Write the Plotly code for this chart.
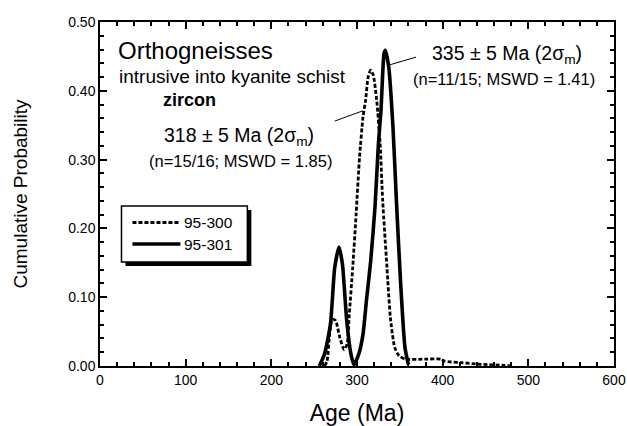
import plotly.graph_objects as go

# ---- data ----
age_9530 = [262, 265, 268, 271, 275, 280, 285, 288.5, 291, 295, 299, 303, 307, 310, 313, 316,
            319, 323, 327, 330, 335, 339, 344, 349, 356, 380, 398, 402, 421, 444, 472, 480]
prob_9530 = [0.0, 0.007, 0.046, 0.068, 0.066, 0.041, 0.024, 0.032, 0.075, 0.143, 0.221, 0.304,
             0.362, 0.386, 0.420, 0.430, 0.423, 0.386, 0.323, 0.240, 0.143, 0.070, 0.027, 0.015,
             0.010, 0.010, 0.010, 0.007, 0.005, 0.0025, 0.001, 0.0]

age_9531 = [256, 262, 269, 274, 279, 283, 288, 293, 296.5, 302, 307, 311, 316, 321, 325, 328,
            331.5, 333, 337, 342, 346, 351, 356, 360]
prob_9531 = [0.0, 0.017, 0.061, 0.143, 0.173, 0.148, 0.066, 0.017, 0.002, 0.017, 0.046, 0.095,
             0.153, 0.231, 0.323, 0.372, 0.454, 0.459, 0.435, 0.347, 0.240, 0.119, 0.027, 0.002]

series_names = ["95-300", "95-301"]
x_ticks = [0, 100, 200, 300, 400, 500, 600]
y_ticks = [0.0, 0.1, 0.2, 0.3, 0.4, 0.5]
y_tick_text = ["0.00", "0.10", "0.20", "0.30", "0.40", "0.50"]

FONT = "Liberation Sans, Arial, sans-serif"
DASH = "4px,2px"
W_DASH, W_SOLID = 2.8, 3.6

fig = go.Figure()
fig.add_trace(go.Scatter(x=age_9530, y=prob_9530, mode="lines", name=series_names[0], showlegend=False,
                         line=dict(color="black", width=W_DASH, dash=DASH, shape="spline", smoothing=0.6)))
fig.add_trace(go.Scatter(x=age_9531, y=prob_9531, mode="lines", name=series_names[1], showlegend=False,
                         line=dict(color="black", width=W_SOLID, shape="spline", smoothing=0.6)))

# leader lines
fig.add_trace(go.Scatter(x=[274, 307], y=[0.356, 0.371], mode="lines", showlegend=False,
                         line=dict(color="black", width=1)))
fig.add_trace(go.Scatter(x=[337.5, 369], y=[0.4375, 0.449], mode="lines", showlegend=False,
                         line=dict(color="black", width=1)))

axis_common = dict(showline=True, linecolor="black", linewidth=1.5, mirror="ticks",
                   ticks="inside", ticklen=7, tickwidth=1.5, tickcolor="black",
                   showgrid=False, zeroline=False, automargin=False,
                   tickfont=dict(family=FONT, size=14, color="black"))

fig.update_xaxes(range=[0, 600], tickvals=x_ticks,
                 minor=dict(dtick=20, ticks="inside", ticklen=4, tickwidth=1.5, tickcolor="black", showgrid=False),
                 title=dict(text="Age (Ma)", font=dict(family=FONT, size=23, color="black"), standoff=19),
                 **axis_common)
fig.update_yaxes(range=[0, 0.5], tickvals=y_ticks, ticktext=y_tick_text,
                 minor=dict(dtick=0.02, ticks="inside", ticklen=4, tickwidth=1.5, tickcolor="black", showgrid=False),
                 title=dict(text="Cumulative Probability", font=dict(family=FONT, size=19, color="black"), standoff=36),
                 **axis_common)

L, R, T, B = 99.5, 13, 22, 60
W, H = 627, 426
PW, PH = W - L - R, H - T - B

def px(xp):
    return (xp - L) / PW

def py(yp):
    return (H - B - yp) / PH

ann = []
def A(text, x, y, size, xanchor="left", bold=False):
    ann.append(dict(text=f"<b>{text}</b>" if bold else text, x=x, y=y, xref="paper", yref="paper",
                    xanchor=xanchor, yanchor="middle", showarrow=False,
                    font=dict(family=FONT, size=size, color="black")))

A("Orthogneisses", px(116), py(50), 24)
A("intrusive into kyanite schist", px(117), py(77), 19)
A("zircon", px(161), py(100), 18, bold=True)
A("318 ± 5 Ma (2σ<sub>m</sub>)", px(239), py(136), 19.5, xanchor="center")
A("(n=15/16; MSWD = 1.85)", px(240), py(161), 16.5, xanchor="center")
A("335 ± 5 Ma (2σ<sub>m</sub>)", px(507), py(55), 19.5, xanchor="center")
A("(n=11/15; MSWD = 1.41)", px(504), py(79), 16.5, xanchor="center")

# legend (drawn manually as a boxed key with drop shadow)
A(series_names[0], px(182), py(222.5), 15.5)
A(series_names[1], px(182), py(244), 15.5)

shapes = [
    dict(type="rect", xref="paper", yref="paper", x0=px(125), x1=px(251), y0=py(266), y1=py(210),
         fillcolor="black", line=dict(width=0), layer="above"),
    dict(type="rect", xref="paper", yref="paper", x0=px(121), x1=px(247), y0=py(262), y1=py(206),
         fillcolor="white", line=dict(color="black", width=1.5), layer="above"),
    dict(type="line", xref="paper", yref="paper", x0=px(132), x1=px(180), y0=py(222.5), y1=py(222.5),
         line=dict(color="black", width=W_DASH, dash=DASH), layer="above"),
    dict(type="line", xref="paper", yref="paper", x0=px(132), x1=px(180), y0=py(244), y1=py(244),
         line=dict(color="black", width=W_SOLID), layer="above"),
]

fig.update_layout(
    width=W, height=H,
    margin=dict(l=L, r=R, t=T, b=B, autoexpand=False),
    paper_bgcolor="white", plot_bgcolor="white",
    font=dict(family=FONT, color="black"),
    annotations=ann,
    shapes=shapes,
    showlegend=False,
)

fig.write_html("out.html")
